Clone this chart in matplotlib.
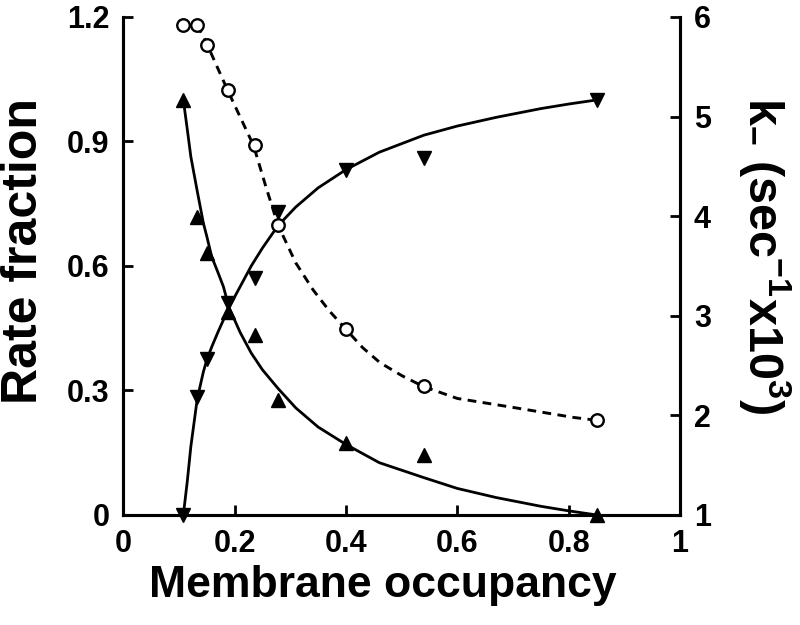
import matplotlib
matplotlib.use("Agg")
import matplotlib.pyplot as plt

# measured points
occupancy = [0.108, 0.133, 0.151, 0.189, 0.236, 0.278, 0.40, 0.54, 0.851]
rate_up = [1.0, 0.718, 0.631, 0.49, 0.434, 0.277, 0.173, 0.145, 0.0]
rate_down = [0.0, 0.284, 0.376, 0.51, 0.571, 0.73, 0.831, 0.86, 1.0]
k_minus = [5.92, 5.92, 5.72, 5.27, 4.71, 3.91, 2.87, 2.29, 1.95]

# fitted curves
fit_x = [0.108, 0.115, 0.1215, 0.133, 0.144, 0.15, 0.159, 0.17, 0.18, 0.19,
         0.21, 0.23, 0.25, 0.278, 0.31, 0.35, 0.40, 0.46, 0.54, 0.60,
         0.67, 0.75, 0.80, 0.851]
fit_up = [1.0, 0.93, 0.863, 0.78, 0.703, 0.672, 0.622, 0.585, 0.55, 0.50,
          0.44, 0.39, 0.35, 0.305, 0.258, 0.212, 0.17, 0.126, 0.09, 0.064,
          0.042, 0.021, 0.01, 0.0]
fit_down = [0.0, 0.08, 0.165, 0.28, 0.345, 0.373, 0.405, 0.44, 0.47, 0.50,
            0.55, 0.60, 0.643, 0.697, 0.742, 0.788, 0.832, 0.874, 0.915, 0.937,
            0.958, 0.979, 0.99, 1.0]
k_x = [0.133, 0.151, 0.187, 0.234, 0.256, 0.278, 0.31, 0.341, 0.37, 0.399,
       0.43, 0.461, 0.50, 0.539, 0.60, 0.70, 0.808, 0.851]
k_line = [5.92, 5.72, 5.27, 4.71, 4.30, 3.91, 3.53, 3.26, 3.05, 2.87,
          2.68, 2.53, 2.40, 2.29, 2.17, 2.08, 1.98, 1.95]

x_ticks = [0, 0.2, 0.4, 0.6, 0.8, 1]
x_labels = ["0", "0.2", "0.4", "0.6", "0.8", "1"]
y_ticks = [0, 0.3, 0.6, 0.9, 1.2]
y_labels = ["0", "0.3", "0.6", "0.9", "1.2"]
k_ticks = [1, 2, 3, 4, 5, 6]

plt.rcParams['font.family'] = ['Liberation Sans', 'DejaVu Sans']
plt.rcParams['font.weight'] = 'bold'
plt.rcParams['mathtext.fontset'] = 'custom'
plt.rcParams['mathtext.rm'] = 'Liberation Sans:bold'
plt.rcParams['mathtext.it'] = 'Liberation Sans:bold'
plt.rcParams['mathtext.bf'] = 'Liberation Sans:bold'
plt.rcParams['mathtext.default'] = 'rm'

fig = plt.figure(figsize=(8, 6.25), dpi=100)
ax = fig.add_axes([0.154, 0.176, 0.696, 0.797])
ax2 = ax.twinx()

ax.plot(fit_x, fit_up, color='black', lw=2.0, zorder=2)
ax.plot(fit_x, fit_down, color='black', lw=2.0, zorder=2)
ax.plot(occupancy, rate_up, linestyle='none', marker='^', ms=10,
        color='black', zorder=3, clip_on=False)
ax.plot(occupancy, rate_down, linestyle='none', marker='v', ms=10,
        color='black', zorder=3, clip_on=False)

ax2.plot(k_x, k_line, color='black', lw=2.1, linestyle=(0, (3, 2.2)), zorder=2)
ax2.plot(occupancy, k_minus, linestyle='none', marker='o', ms=9,
         mfc='white', mec='black', mew=1.7, zorder=3, clip_on=False)

ax.set_xlim(0, 1)
ax.set_ylim(0, 1.2)
ax2.set_ylim(1, 6)

ax.set_xticks(x_ticks)
ax.set_xticklabels(x_labels)
ax.set_yticks(y_ticks)
ax.set_yticklabels(y_labels)
ax2.set_yticks(k_ticks)
ax2.set_yticklabels([str(t) for t in k_ticks])

for a in (ax, ax2):
    a.spines['top'].set_visible(False)
    for s in ('left', 'right', 'bottom'):
        a.spines[s].set_linewidth(2.2)
    a.tick_params(direction='in', length=7, width=2, labelsize=22)

ax.tick_params(axis='x', pad=10)
ax.tick_params(axis='y', pad=10)
ax2.tick_params(axis='y', pad=10)

ax.set_xlabel("Membrane occupancy", fontsize=32, fontweight='bold')
ax.xaxis.set_label_coords(0.467, -0.1)
ax.xaxis.label.set_va('top')
ax.set_ylabel("Rate fraction", fontsize=36, fontweight='bold')
ax.yaxis.set_label_coords(-0.178, 0.53)
ax.yaxis.label.set_va('center')
ax2.set_ylabel(r"k$_{-}$ (sec$^{-1}$x10$^{3}$)", fontsize=35,
               fontweight='bold', rotation=270)
ax2.yaxis.set_label_coords(1.153, 0.52)
ax2.yaxis.label.set_va('center')

fig.savefig("out.png", dpi=100)
